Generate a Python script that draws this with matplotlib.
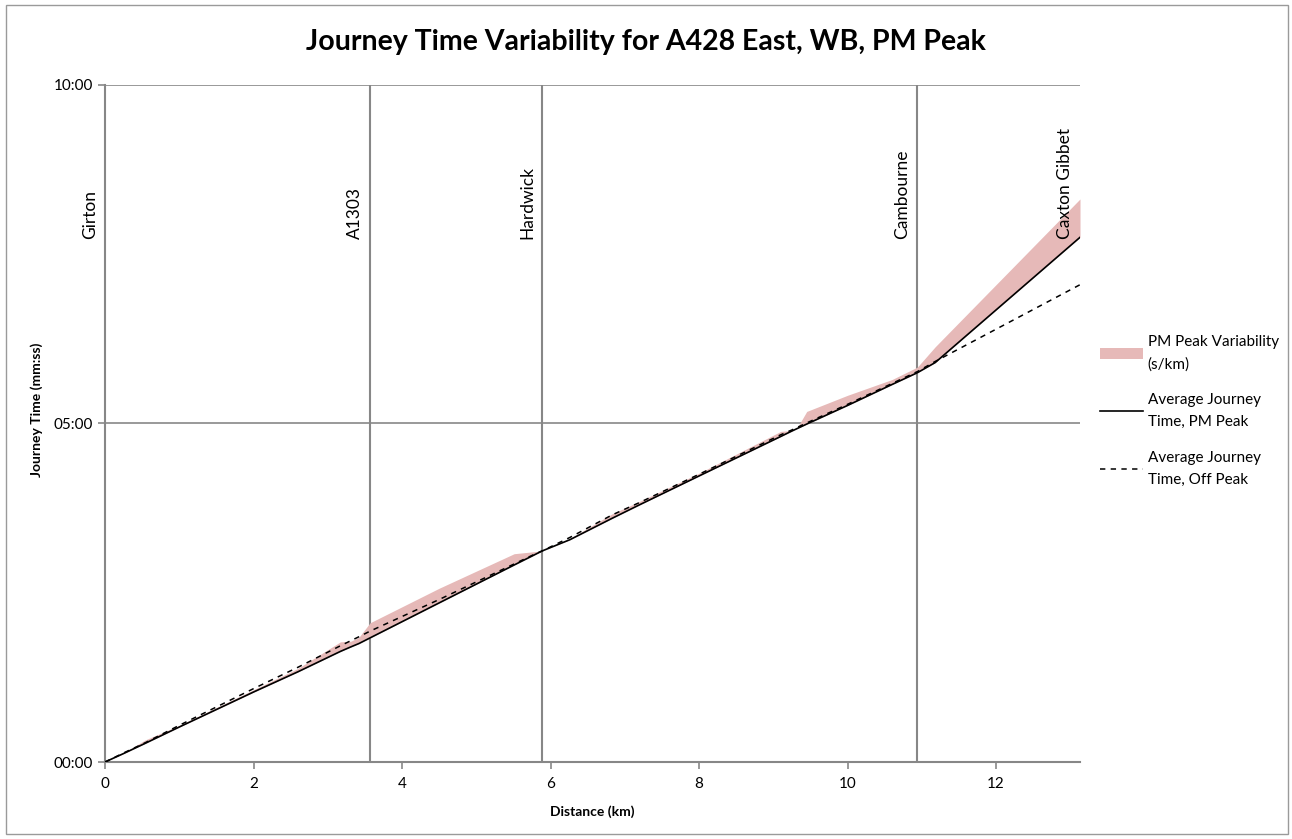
import matplotlib
matplotlib.use("Agg")
import matplotlib.pyplot as plt
from matplotlib.patches import Rectangle
from matplotlib.transforms import blended_transform_factory, offset_copy

plt.rcParams['font.family'] = ['Lato', 'DejaVu Sans']

# ---- data ----
distance_km = [0, 0.25, 0.54, 1.0, 2.0, 2.6, 3.17, 3.31, 3.42, 3.57, 4.5, 5.51, 5.78,
               5.885, 6.26, 6.83, 7.2, 8.0, 9.1, 9.24, 9.32, 9.45, 10.0, 10.6, 10.94,
               11.18, 13.13]
pm_peak_s = [0, 7.5, 16.5, 31, 62, 80, 98, 102, 105, 110, 141, 174.6, 183.5,
             187, 197, 216, 228, 253.5, 288.5, 293, 295.5, 299.5, 316, 334.6, 345,
             354, 465]
off_peak_s = [0, 8, 17, 32.5, 65, 84, 103, 107.5, 111, 116, 144, 175.5, 184,
              187, 199, 219, 230, 255, 290, 294, 296.5, 300.5, 317, 335.5, 346,
              355, 423]
pm_upper_s = [0, 8, 19.5, 32.5, 64, 83, 106.5, 107, 110.6, 123.4, 154, 184.6, 186.4,
              187, 198, 220, 231, 256, 293, 293.8, 296, 310.7, 325, 339, 350,
              368, 499]

locations = ["Girton", "A1303", "Hardwick", "Cambourne", "Caxton Gibbet"]
location_km = [0, 3.57, 5.885, 10.94, 13.13]

x_ticks = [0, 2, 4, 6, 8, 10, 12]
y_ticks = [0, 300, 600]
y_tick_labels = ["00:00", "05:00", "10:00"]

# ---- figure ----
fig = plt.figure(figsize=(12.92, 8.39), dpi=100)
ax = fig.add_axes([105 / 1292, 77 / 839, 975 / 1292, 677 / 839])

grid_col = "#878787"
band_col = "#E6B9B8"

ax.fill_between(distance_km, pm_peak_s, pm_upper_s, color=band_col, linewidth=0,
                label="PM Peak Variability\n(s/km)", zorder=2)
ax.plot(distance_km, pm_peak_s, color="black", lw=1.2,
        label="Average Journey\nTime, PM Peak", zorder=3)
ax.plot(distance_km, off_peak_s, color="black", lw=1.1, ls=(0, (3.5, 3.5)),
        label="Average Journey\nTime, Off Peak", zorder=3)

ax.set_xlim(0, 13.13)
ax.set_ylim(0, 600)

for y in y_ticks[1:]:
    ax.axhline(y, color=grid_col, lw=1.2, zorder=1)
for xk in location_km[1:-1]:
    ax.axvline(xk, color=grid_col, lw=1.5, zorder=1)

for s in ["top", "right"]:
    ax.spines[s].set_visible(False)
for s in ["left", "bottom"]:
    ax.spines[s].set_color(grid_col)
    ax.spines[s].set_linewidth(1.5)

ax.set_xticks(x_ticks)
ax.set_xticklabels([str(v) for v in x_ticks])
ax.set_yticks(y_ticks)
ax.set_yticklabels(y_tick_labels)
ax.tick_params(axis="both", colors=grid_col, labelcolor="black", labelsize=11,
               length=5, width=1.2, direction="out")
ax.tick_params(axis="x", pad=6)

ax.set_xlabel("Distance (km)", fontsize=10, fontweight="bold", labelpad=10)
ax.set_ylabel("Journey Time (mm:ss)", fontsize=10, fontweight="bold")
ax.yaxis.set_label_coords(-62 / 975, 0.52)

trans = blended_transform_factory(ax.transData, ax.transAxes)
trans = offset_copy(trans, fig=fig, x=-7, y=0, units="dots")
for name, xk in zip(locations, location_km):
    ax.text(xk, 0.7725, name, rotation=90, ha="right", va="bottom",
            fontsize=12.5, transform=trans)

fig.suptitle("Journey Time Variability for A428 East, WB, PM Peak",
             fontsize=20.5, fontweight="bold", y=1 - 42 / 839, va="center")

leg = ax.legend(loc="upper left", bbox_to_anchor=(1 + 20 / 975, 0.631), frameon=False,
                fontsize=11, handlelength=2.8, handletextpad=0.33,
                labelspacing=1.4, borderaxespad=0, borderpad=0)
for t in leg.get_texts():
    t.set_linespacing(1.75)

fig.add_artist(Rectangle((6 / 1292, 5 / 839), 1282 / 1292, 829 / 839,
                         transform=fig.transFigure, fill=False,
                         edgecolor="#9a9a9a", lw=1.0))

fig.savefig("out.png", dpi=100)
